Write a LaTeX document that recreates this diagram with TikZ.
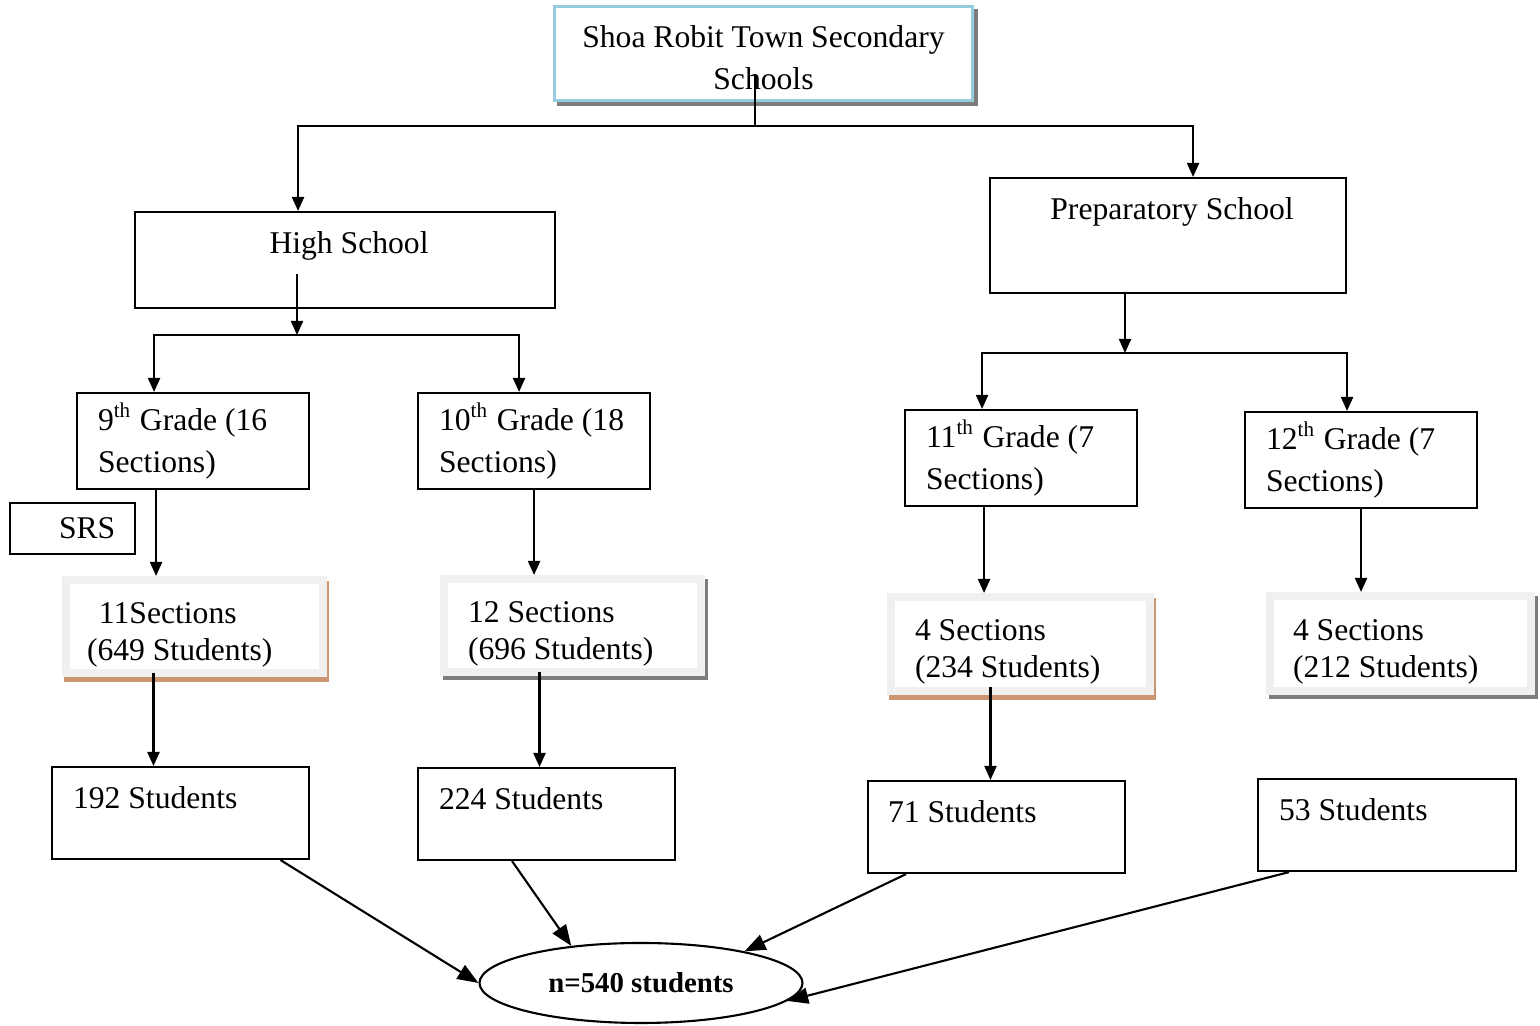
\documentclass[tikz,border=0pt]{standalone}
\usepackage{fontspec}
\setmainfont{Liberation Serif}
\usetikzlibrary{arrows.meta,shapes.geometric,shadows}

\definecolor{topblue}{RGB}{150,205,222}
\definecolor{framegray}{RGB}{240,240,240}
\definecolor{shadegray}{RGB}{125,125,125}
\definecolor{shadetan}{RGB}{205,150,115}

\begin{document}
\begin{tikzpicture}[
    every node/.style={font=\fontsize{9}{12}\selectfont},
    block/.style={draw, line width=0.6pt, anchor=north west, inner ysep=0pt},
    title/.style={block, draw=topblue, line width=0.03cm, fill=white, align=flush center, inner xsep=0.1cm, text width=3.98cm, minimum height=0.94cm,
        execute at begin node={\rule{0pt}{0.31cm}},
        general shadow={fill=shadegray, draw=shadegray, shadow xshift=0.04cm, shadow yshift=-0.04cm}},
    school/.style={block, text height=0.41cm},
    grade/.style={block, align=flush left, inner xsep=0.21cm, text width=1.90cm, minimum height=0.96cm},
    section/.style={block, draw=framegray, line width=0.08cm, fill=white, align=flush left, minimum height=0.93cm, font=\fontsize{9}{10.5}\selectfont,
        execute at begin node={\rule{0pt}{0.37cm}}},
    tanshade/.style={general shadow={fill=shadetan, draw=shadetan, shadow xshift=0.02cm, shadow yshift=-0.05cm}},
    grayshade/.style={general shadow={fill=shadegray, draw=shadegray, shadow xshift=0.03cm, shadow yshift=-0.04cm}},
    count/.style={block, align=flush left, inner xsep=0.21cm, text width=2.15cm, text height=0.41cm, text depth=0.51cm},
    arrow/.style={-{Triangle[length=0.14cm, width=0.12cm]}, line width=0.6pt},
    bigarrow/.style={-{Triangle[length=0.21cm, width=0.16cm]}, line width=0.6pt}
]
\useasboundingbox (0,0) rectangle (15.40,-10.26);

\node[title] (top) at (5.53,-0.05) {Shoa Robit Town Secondary\\Schools};
\node[school, minimum width=4.20cm, text depth=0.55cm] (hs) at (1.34,-2.11) {\hspace*{0.08cm}High School};
\node[school, minimum width=3.56cm, text depth=0.74cm] (prep) at (9.89,-1.77) {\hspace*{0.08cm}Preparatory School};

\node[grade] (g9) at (0.76,-3.92) {9\textsuperscript{th} Grade (16\\Sections)};
\node[grade] (g10) at (4.17,-3.92) {10\textsuperscript{th} Grade (18\\Sections)};
\node[grade] (g11) at (9.04,-4.09) {11\textsuperscript{th} Grade (7\\Sections)};
\node[grade] (g12) at (12.44,-4.11) {12\textsuperscript{th} Grade (7\\Sections)};
\node[block, align=flush left, inner xsep=0pt, text width=1.25cm, minimum height=0.51cm] (srs) at (0.09,-5.02) {\hspace*{0.49cm}SRS};

\node[section, tanshade, inner xsep=0.21cm, text width=2.15cm] (s9) at (0.62,-5.76) {\hspace*{0.12cm}11Sections\\(649 Students)};
\node[section, grayshade, inner xsep=0.24cm, text width=2.09cm] (s10) at (4.40,-5.75) {12 Sections\\(696 Students)};
\node[section, tanshade, inner xsep=0.24cm, text width=2.11cm, minimum height=0.94cm] (s11) at (8.87,-5.93) {4 Sections\\(234 Students)};
\node[section, grayshade, inner xsep=0.23cm, text width=2.15cm, minimum height=0.95cm] (s12) at (12.66,-5.92) {4 Sections\\(212 Students)};

\node[count] (b9) at (0.51,-7.66) {192 Students};
\node[count] (b10) at (4.17,-7.67) {224 Students};
\node[count, inner xsep=0.20cm, text width=2.17cm] (b11) at (8.67,-7.80) {71 Students};
\node[count, text width=2.16cm] (b12) at (12.57,-7.78) {53 Students};

\node[draw, ellipse, line width=0.6pt, minimum width=3.23cm, minimum height=0.80cm, font=\fontsize{8.2}{10}\selectfont\bfseries] (total) at (6.41,-9.83) {n=540 students};

\coordinate (topsplit) at (7.55,-1.26);
\coordinate (hssplit) at (2.97,-3.35);
\coordinate (prepsplit) at (11.25,-3.53);

\draw[line width=0.6pt] ([yshift=0.28cm]top.south -| topsplit) -- (topsplit);
\draw[arrow] (topsplit) -| ([xshift=-0.47cm]hs.north);
\draw[arrow] (topsplit) -| ([xshift=0.25cm]prep.north);
\draw[arrow] ([yshift=0.35cm]hs.south -| hssplit) -- (hssplit);
\draw[arrow] (hssplit) -| ([xshift=-0.39cm]g9.north);
\draw[arrow] (hssplit) -| ([xshift=-0.15cm]g10.north);
\draw[arrow] (prep.south -| prepsplit) -- (prepsplit);
\draw[arrow] (prepsplit) -| ([xshift=-0.39cm]g11.north);
\draw[arrow] (prepsplit) -| ([xshift=-0.14cm]g12.north);

\draw[arrow] ([xshift=-0.37cm]g9.south) -- ([xshift=-0.37cm]g9.south |- s9.north);
\draw[arrow] (g10.south) -- (g10.south |- s10.north);
\draw[arrow] ([xshift=-0.37cm]g11.south) -- ([xshift=-0.37cm]g11.south |- s11.north);
\draw[arrow] (g12.south) -- (g12.south |- s12.north);

\draw[arrow] ([xshift=-0.41cm,yshift=0.04cm]s9.south) -- ([xshift=-0.41cm]s9.south |- b9.north);
\draw[arrow] ([xshift=-0.33cm,yshift=0.04cm]s10.south) -- ([xshift=-0.33cm]s10.south |- b10.north);
\draw[arrow] ([xshift=-0.30cm,yshift=0.08cm]s11.south) -- ([xshift=-0.30cm]s11.south |- b11.north);

\draw[bigarrow] ([xshift=1.0cm]b9.south) -- (total.west);
\draw[bigarrow] ([xshift=-0.345cm]b10.south) -- (total.152);
\draw[bigarrow] ([xshift=-0.905cm]b11.south) -- (total.17);
\draw[bigarrow] ([xshift=-0.98cm]b12.south) -- (total.-7);
\end{tikzpicture}
\end{document}
